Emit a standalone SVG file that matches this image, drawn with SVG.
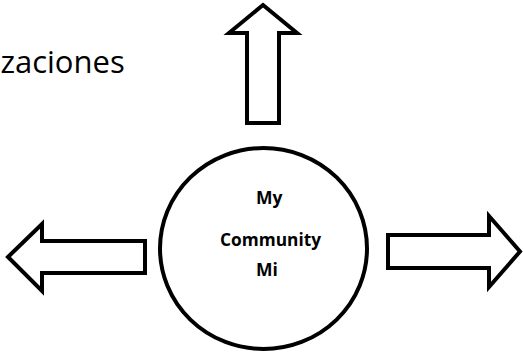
<svg xmlns="http://www.w3.org/2000/svg" width="523" height="352" viewBox="0 0 523 352">
  <style>
    .shape { fill: #ffffff; stroke: #000000; stroke-width: 4; stroke-linejoin: miter; }
    .label { font-family: "Open Sans", "Liberation Sans", sans-serif; font-weight: 700; font-size: 17.5px; fill: #000000; }
    .title { font-family: "Open Sans", "Liberation Sans", sans-serif; font-size: 31px; fill: #000000; }
  </style>
  <rect width="523" height="352" fill="#ffffff"/>

  <g id="title">
    <text class="title" x="124.7" y="73.3" text-anchor="end">zaciones</text>
  </g>

  <g id="connectors">
    <!-- up arrow -->
    <polygon class="shape" points="263,5 297,33 279,33 279,123 247,123 247,33 229,33"/>
    <!-- left arrow -->
    <polygon class="shape" points="8,257 42,224 42,241 145,241 145,273 42,273 42,291"/>
    <!-- right arrow -->
    <polygon class="shape" points="388,235 489,235 489,216 520,251.5 489,287 489,268 388,268"/>
  </g>

  <g id="community">
    <ellipse class="shape" cx="263.5" cy="248.5" rx="103.5" ry="100.5"/>
    <text class="label" x="256" y="204">My</text>
    <text class="label" x="220" y="245.7" textLength="101" lengthAdjust="spacingAndGlyphs">Community</text>
    <text class="label" x="256" y="275.7">Mi</text>
  </g>
</svg>
